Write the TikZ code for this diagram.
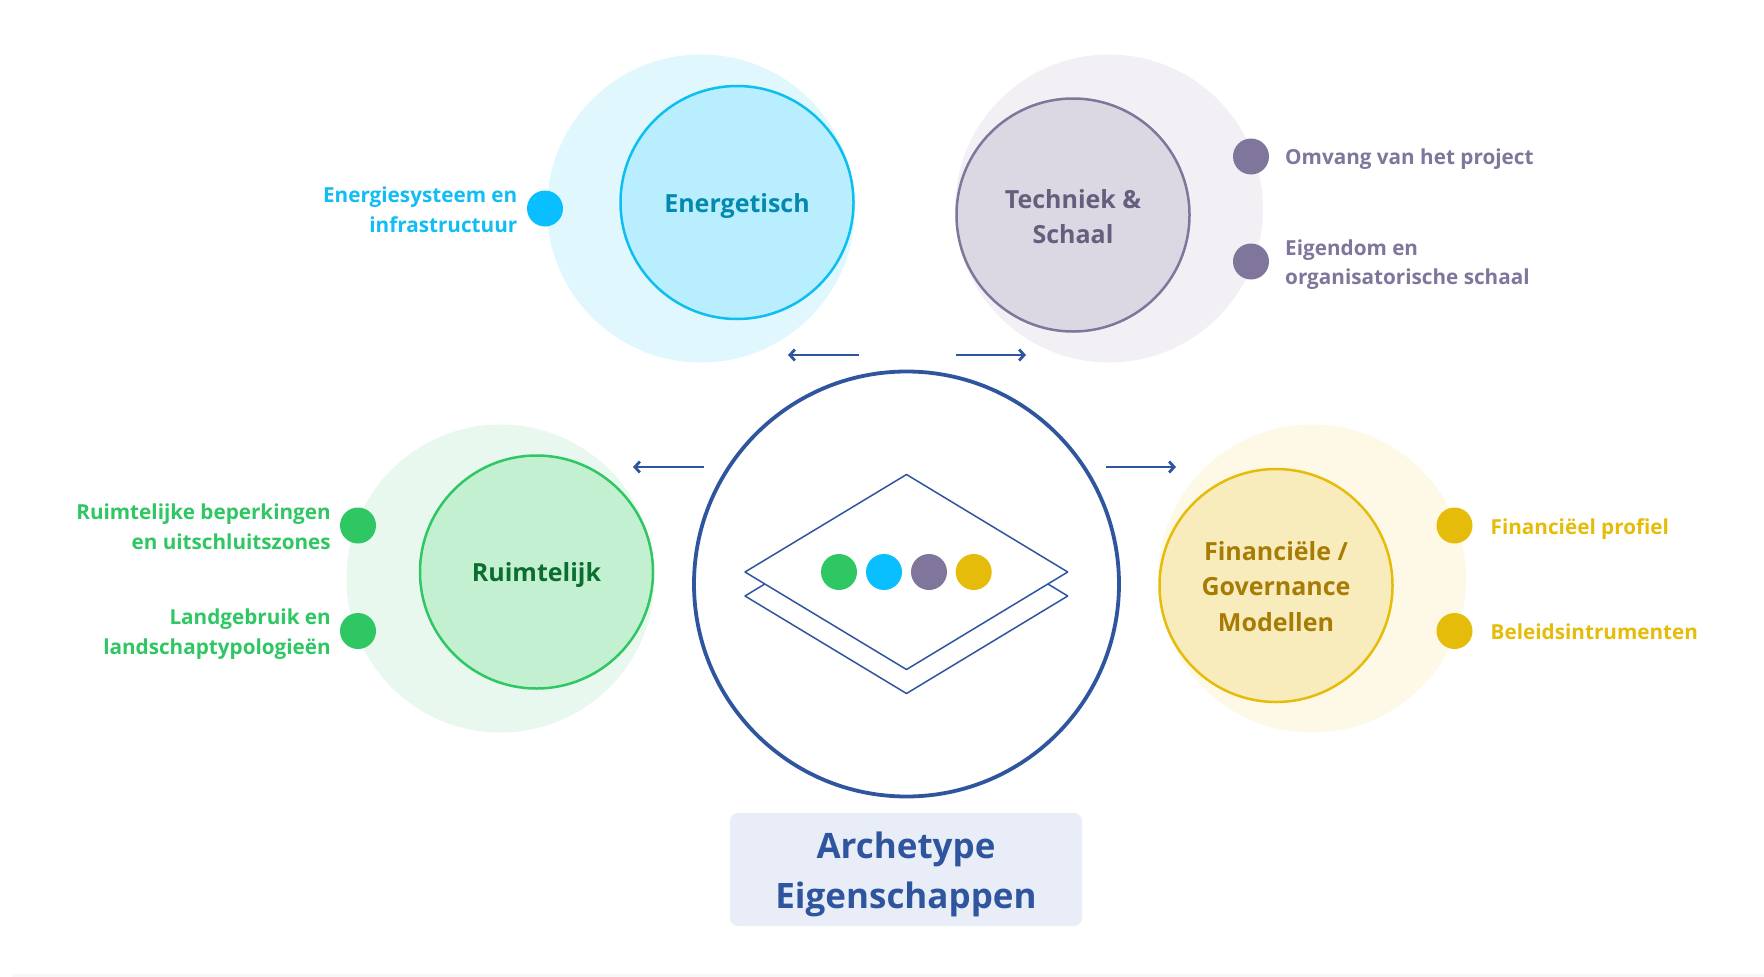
\documentclass[tikz,border=0pt]{standalone}
\usepackage{fontspec}
\setmainfont{Open Sans}
\usetikzlibrary{arrows.meta}
\definecolor{navy}{HTML}{2F559F}
\definecolor{cE}{HTML}{0DBEF0}\definecolor{cEl}{HTML}{12BDF5}\definecolor{cEdot}{HTML}{0ABFFF}\definecolor{cEf}{HTML}{B8EEFE}\definecolor{cEo}{HTML}{E0F7FE}\definecolor{cEt}{HTML}{0489AE}
\definecolor{cT}{HTML}{80769B}\definecolor{cTf}{HTML}{DBD8E3}\definecolor{cTo}{HTML}{F2F0F5}\definecolor{cTt}{HTML}{675D7D}
\definecolor{cR}{HTML}{2FC763}\definecolor{cRf}{HTML}{C4F0D2}\definecolor{cRo}{HTML}{E9F8EF}\definecolor{cRt}{HTML}{0B6E30}
\definecolor{cF}{HTML}{E6BC0A}\definecolor{cFf}{HTML}{F9ECBC}\definecolor{cFo}{HTML}{FEF9E6}\definecolor{cFt}{HTML}{A67C05}
\definecolor{boxf}{HTML}{E8EDF7}
\definecolor{strip}{HTML}{F8F8F8}
\tikzset{
 x=1pt,y=-1pt,
 halo/.style={circle,inner sep=0,minimum size=308pt,fill=#1},
 core/.style={circle,inner sep=0,minimum size=233pt,line width=2.5pt},
 coretext/.style={inner sep=0,align=center,font=\fontsize{25}{35.5}\selectfont\bfseries,text=#1},
 dot/.style={circle,inner sep=0,minimum size=36pt,fill=#1},
 lblr/.style={inner sep=0,align=right,anchor=east,font=\fontsize{20.7}{29.5}\selectfont\bfseries,text=#1},
 lbll/.style={inner sep=0,align=left,anchor=west,font=\fontsize{20.7}{29.5}\selectfont\bfseries,text=#1},
 flow/.style={draw=navy,line width=2.8pt,-{Straight Barb[length=5pt,width=11pt,line width=2.8pt]}},
 sheet/.style={draw=navy,line width=1.5pt,line join=round,fill=white},
}
\begin{document}
\begin{tikzpicture}
\useasboundingbox (0,0) rectangle (1764,977);
\fill[white] (0,0) rectangle (1764,977);
\fill[strip] (12,974) rectangle (1764,977);
% halos
\node[halo=cEo] (hE) at (701,208.5) {};
\node[halo=cTo] (hT) at (1109,208.5) {};
\node[halo=cRo] (hR) at (500.5,578.5) {};
\node[halo=cFo] (hF) at (1312,578.5) {};
% cores
\node[core,draw=cE,fill=cEf] (E) at (737,202.5) {};
\node[core,draw=cT,fill=cTf] (T) at (1073,215) {};
\node[core,draw=cR,fill=cRf] (R) at (536.5,572) {};
\node[core,draw=cF,fill=cFf] (F) at (1276,585.5) {};
\node[coretext=cEt] (tE) at (737,206.5) {Energetisch};
\node[coretext=cTt] (tT) at (1073,216.7) {Techniek \&\\Schaal};
\node[coretext=cRt] (tR) at (536.5,575.4) {Ruimtelijk};
\node[coretext=cFt] (tF) at (1276,586.5) {Financiële /\\Governance\\Modellen};
% centre
\node[circle,inner sep=0,minimum size=425pt,draw=navy,line width=3.8pt,fill=white] (C) at (906.5,584) {};
\coordinate (d2t) at (906.5,498);\coordinate (d2l) at (745,596);\coordinate (d2b) at (906.5,693.5);\coordinate (d2r) at (1067.7,596);
\draw[sheet] (d2t)--(d2r)--(d2b)--(d2l)--cycle;
\coordinate (d1t) at (906.5,474.5);\coordinate (d1l) at (745,572);\coordinate (d1b) at (906.5,669.5);\coordinate (d1r) at (1067.7,572);
\draw[sheet] (d1t)--(d1r)--(d1b)--(d1l)--cycle;
\node[dot=cR] (s1) at (839,572) {};
\node[dot=cEdot] (s2) at (884,572) {};
\node[dot=cT] (s3) at (929,572) {};
\node[dot=cF] (s4) at (973.7,572) {};
% arrows
\coordinate (a1s) at (859,355);\coordinate (a1e) at (788,355);
\coordinate (a2s) at (955.5,355);\coordinate (a2e) at (1026,355);
\coordinate (a3s) at (703.5,467);\coordinate (a3e) at (633,467);
\coordinate (a4s) at (1106,467);\coordinate (a4e) at (1176,467);
\draw[flow] (a1s)--(a1e);
\draw[flow] (a2s)--(a2e);
\draw[flow] (a3s)--(a3e);
\draw[flow] (a4s)--(a4e);
% dots
\node[dot=cEdot] (dE) at (545,208.5) {};
\node[dot=cT] (dT1) at (1251,156.5) {};
\node[dot=cT] (dT2) at (1251,261.5) {};
\node[dot=cR] (dR1) at (358,525.5) {};
\node[dot=cR] (dR2) at (358,631) {};
\node[dot=cF] (dF1) at (1454.5,525.5) {};
\node[dot=cF] (dF2) at (1454.5,631) {};
% labels
\node[lblr=cEl] (lE) at (517.5,209.5) {Energiesysteem en\\infrastructuur};
\node[lbll=cT] (lT1) at (1285,159.5) {Omvang van het project};
\node[lbll=cT] (lT2) at (1285,264.5) {Eigendom en\\organisatorische schaal};
\node[lblr=cR] (lR1) at (331,526.5) {Ruimtelijke beperkingen\\en uitschluitszones};
\node[lblr=cR] (lR2) at (331,634) {Landgebruik en\\landschaptypologieën};
\node[lbll=cF] (lF1) at (1490.5,529.5) {Financiëel profiel};
\node[lbll=cF] (lF2) at (1490.5,632) {Beleidsintrumenten};
% title
\node[rounded corners=8pt,fill=boxf,minimum width=352pt,minimum height=113pt,inner sep=0] (B) at (906,869.5) {};
\node[inner sep=0,align=center,text=navy,font=\fontsize{35}{50}\selectfont\bfseries] (tB) at (906,874.5) {Archetype\\Eigenschappen};
\end{tikzpicture}
\end{document}
